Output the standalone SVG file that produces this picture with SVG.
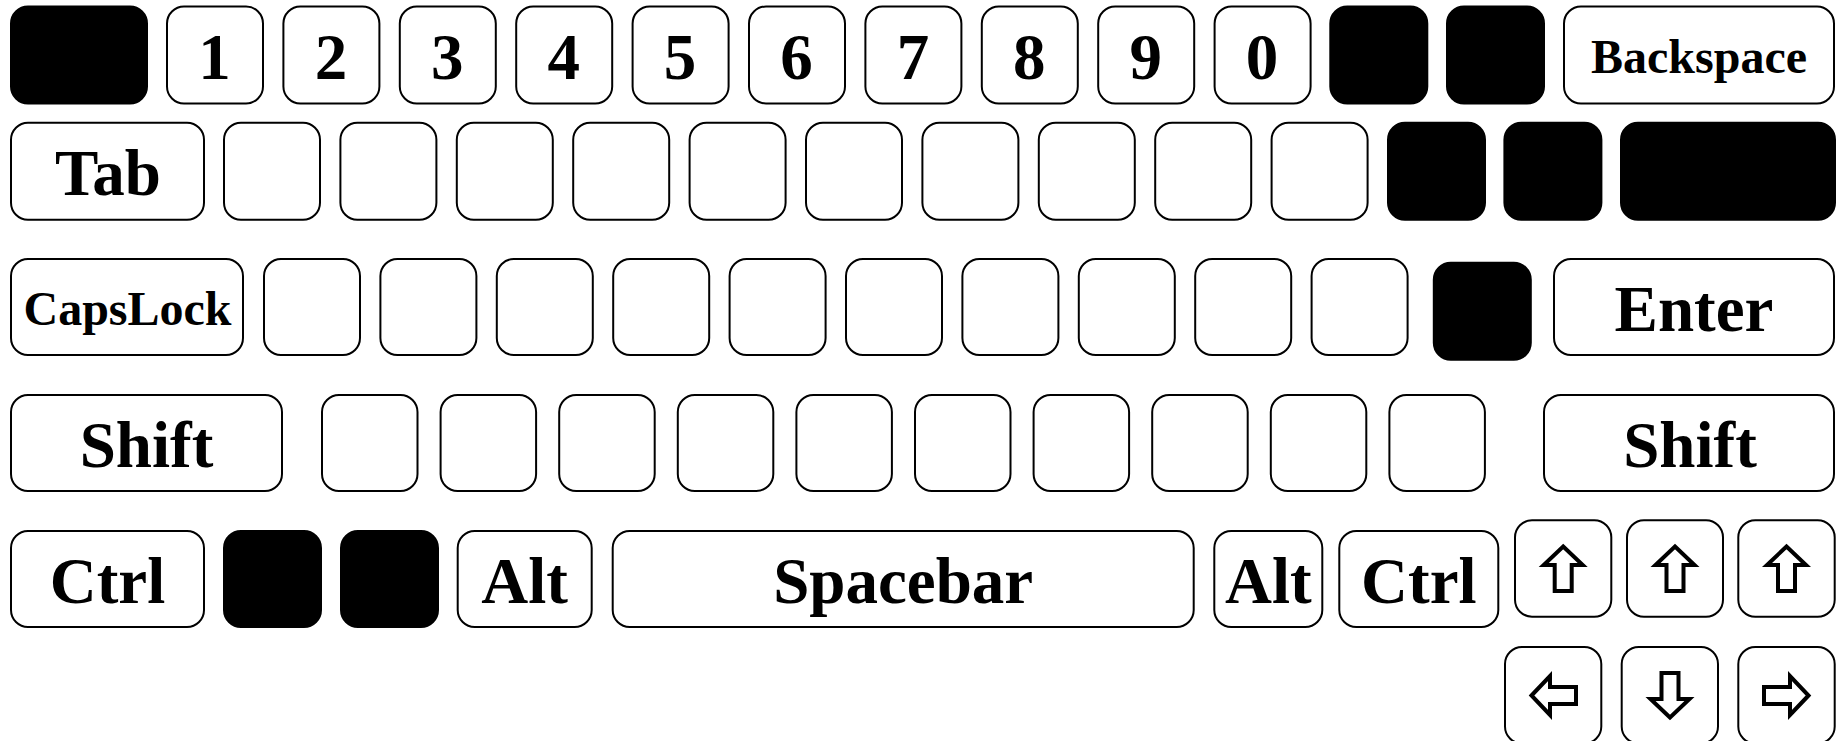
<svg xmlns="http://www.w3.org/2000/svg" width="1841" height="741" viewBox="0 0 1841 741">
<style>
.k{fill:#fff;stroke:#000;stroke-width:2}
.b{fill:#000;stroke:#000;stroke-width:2}
.t{font-family:"Liberation Serif","Times New Roman",serif;font-weight:bold;font-size:65px;text-anchor:middle;fill:#000}
.s{font-size:48px}
.ar{fill:#fff;stroke:#000;stroke-width:4;stroke-linejoin:miter}
</style>
<defs>
<path id="arr" class="ar" d="M0,-22 L19.5,-3.5 L8.5,-3.5 L8.5,22.5 L-8.5,22.5 L-8.5,-3.5 L-19.5,-3.5 Z"/>
</defs>
<rect width="1841" height="741" fill="#fff"/>
<g id="row1">
<g id="k-esc"><rect class="b" x="11" y="6.5" width="136" height="97" rx="17"/></g>
<g id="k-1"><rect class="k" x="167" y="6.5" width="96" height="97" rx="17"/><text class="t" x="214.5" y="79">1</text></g>
<g id="k-2"><rect class="k" x="283.4" y="6.5" width="96" height="97" rx="17"/><text class="t" x="330.9" y="79">2</text></g>
<g id="k-3"><rect class="k" x="399.8" y="6.5" width="96" height="97" rx="17"/><text class="t" x="447.3" y="79">3</text></g>
<g id="k-4"><rect class="k" x="516.2" y="6.5" width="96" height="97" rx="17"/><text class="t" x="563.7" y="79">4</text></g>
<g id="k-5"><rect class="k" x="632.6" y="6.5" width="96" height="97" rx="17"/><text class="t" x="680.1" y="79">5</text></g>
<g id="k-6"><rect class="k" x="749" y="6.5" width="96" height="97" rx="17"/><text class="t" x="796.5" y="79">6</text></g>
<g id="k-7"><rect class="k" x="865.4" y="6.5" width="96" height="97" rx="17"/><text class="t" x="912.9" y="79">7</text></g>
<g id="k-8"><rect class="k" x="981.8" y="6.5" width="96" height="97" rx="17"/><text class="t" x="1029.3" y="79">8</text></g>
<g id="k-9"><rect class="k" x="1098.2" y="6.5" width="96" height="97" rx="17"/><text class="t" x="1145.7" y="79">9</text></g>
<g id="k-0"><rect class="k" x="1214.6" y="6.5" width="96" height="97" rx="17"/><text class="t" x="1262.1" y="79">0</text></g>
<g id="k-r1b1"><rect class="b" x="1330.3" y="6.5" width="97" height="97" rx="17"/></g>
<g id="k-r1b2"><rect class="b" x="1447" y="6.5" width="97" height="97" rx="17"/></g>
<g id="k-backspace"><rect class="k" x="1564" y="6.5" width="270" height="97" rx="17"/><text class="t s" x="1699" y="73">Backspace</text></g>
</g>
<g id="row2">
<g id="k-tab"><rect class="k" x="11" y="122.7" width="193" height="97" rx="17"/><text class="t" x="108" y="195">Tab</text></g>
<g id="k-r2w0"><rect class="k" x="224" y="122.7" width="96" height="97" rx="17"/></g>
<g id="k-r2w1"><rect class="k" x="340.4" y="122.7" width="96" height="97" rx="17"/></g>
<g id="k-r2w2"><rect class="k" x="456.8" y="122.7" width="96" height="97" rx="17"/></g>
<g id="k-r2w3"><rect class="k" x="573.2" y="122.7" width="96" height="97" rx="17"/></g>
<g id="k-r2w4"><rect class="k" x="689.6" y="122.7" width="96" height="97" rx="17"/></g>
<g id="k-r2w5"><rect class="k" x="806" y="122.7" width="96" height="97" rx="17"/></g>
<g id="k-r2w6"><rect class="k" x="922.4" y="122.7" width="96" height="97" rx="17"/></g>
<g id="k-r2w7"><rect class="k" x="1038.8" y="122.7" width="96" height="97" rx="17"/></g>
<g id="k-r2w8"><rect class="k" x="1155.2" y="122.7" width="96" height="97" rx="17"/></g>
<g id="k-r2w9"><rect class="k" x="1271.6" y="122.7" width="96" height="97" rx="17"/></g>
<g id="k-r2b1"><rect class="b" x="1388" y="122.7" width="97" height="97" rx="17"/></g>
<g id="k-r2b2"><rect class="b" x="1504.4" y="122.7" width="97" height="97" rx="17"/></g>
<g id="k-r2b3"><rect class="b" x="1621" y="122.7" width="214" height="97" rx="17"/></g>
</g>
<g id="row3">
<g id="k-capslock"><rect class="k" x="11" y="259" width="232" height="96" rx="17"/><text class="t s" x="127.5" y="324.5">CapsLock</text></g>
<g id="k-r3w0"><rect class="k" x="264" y="259" width="96" height="96" rx="17"/></g>
<g id="k-r3w1"><rect class="k" x="380.4" y="259" width="96" height="96" rx="17"/></g>
<g id="k-r3w2"><rect class="k" x="496.8" y="259" width="96" height="96" rx="17"/></g>
<g id="k-r3w3"><rect class="k" x="613.2" y="259" width="96" height="96" rx="17"/></g>
<g id="k-r3w4"><rect class="k" x="729.6" y="259" width="96" height="96" rx="17"/></g>
<g id="k-r3w5"><rect class="k" x="846" y="259" width="96" height="96" rx="17"/></g>
<g id="k-r3w6"><rect class="k" x="962.4" y="259" width="96" height="96" rx="17"/></g>
<g id="k-r3w7"><rect class="k" x="1078.8" y="259" width="96" height="96" rx="17"/></g>
<g id="k-r3w8"><rect class="k" x="1195.2" y="259" width="96" height="96" rx="17"/></g>
<g id="k-r3w9"><rect class="k" x="1311.6" y="259" width="96" height="96" rx="17"/></g>
<g id="k-r3b1"><rect class="b" x="1433.8" y="262.7" width="97" height="97" rx="17"/></g>
<g id="k-enter"><rect class="k" x="1554" y="259" width="280" height="96" rx="17"/><text class="t" x="1694" y="331">Enter</text></g>
</g>
<g id="row4">
<g id="k-lshift"><rect class="k" x="11" y="395" width="271" height="96" rx="17"/><text class="t" x="146.5" y="467">Shift</text></g>
<g id="k-r4w0"><rect class="k" x="322" y="395" width="95.5" height="96" rx="17"/></g>
<g id="k-r4w1"><rect class="k" x="440.6" y="395" width="95.5" height="96" rx="17"/></g>
<g id="k-r4w2"><rect class="k" x="559.2" y="395" width="95.5" height="96" rx="17"/></g>
<g id="k-r4w3"><rect class="k" x="677.8" y="395" width="95.5" height="96" rx="17"/></g>
<g id="k-r4w4"><rect class="k" x="796.4" y="395" width="95.5" height="96" rx="17"/></g>
<g id="k-r4w5"><rect class="k" x="915" y="395" width="95.5" height="96" rx="17"/></g>
<g id="k-r4w6"><rect class="k" x="1033.6" y="395" width="95.5" height="96" rx="17"/></g>
<g id="k-r4w7"><rect class="k" x="1152.2" y="395" width="95.5" height="96" rx="17"/></g>
<g id="k-r4w8"><rect class="k" x="1270.8" y="395" width="95.5" height="96" rx="17"/></g>
<g id="k-r4w9"><rect class="k" x="1389.4" y="395" width="95.5" height="96" rx="17"/></g>
<g id="k-rshift"><rect class="k" x="1544" y="395" width="290" height="96" rx="17"/><text class="t" x="1690" y="467">Shift</text></g>
</g>
<g id="row5">
<g id="k-lctrl"><rect class="k" x="11" y="531" width="193" height="96" rx="17"/><text class="t" x="107.5" y="603">Ctrl</text></g>
<g id="k-r5b1"><rect class="b" x="224" y="531" width="97" height="96" rx="17"/></g>
<g id="k-r5b2"><rect class="b" x="341" y="531" width="97" height="96" rx="17"/></g>
<g id="k-lalt"><rect class="k" x="457.7" y="531" width="134" height="96" rx="17"/><text class="t" x="524.7" y="603">Alt</text></g>
<g id="k-space"><rect class="k" x="612.7" y="531" width="581" height="96" rx="17"/><text class="t" x="903.2" y="603">Spacebar</text></g>
<g id="k-ralt"><rect class="k" x="1214.3" y="531" width="108" height="96" rx="17"/><text class="t" x="1268.3" y="603">Alt</text></g>
<g id="k-rctrl"><rect class="k" x="1339.3" y="531" width="159" height="96" rx="17"/><text class="t" x="1418.8" y="603">Ctrl</text></g>
</g>
<g id="arrows">
<g id="k-up1"><rect class="k" x="1515" y="520.3" width="96.3" height="96.4" rx="17"/><use href="#arr" transform="translate(1563.2,568.5)"/></g>
<g id="k-up2"><rect class="k" x="1627" y="520.3" width="96" height="96.4" rx="17"/><use href="#arr" transform="translate(1675,568.5)"/></g>
<g id="k-up3"><rect class="k" x="1738.3" y="520.3" width="96.4" height="96.4" rx="17"/><use href="#arr" transform="translate(1786.5,568.5)"/></g>
<g id="k-left"><rect class="k" x="1505" y="647" width="96.3" height="96.4" rx="17"/><use href="#arr" transform="translate(1553.5,695.5) rotate(-90)"/></g>
<g id="k-down"><rect class="k" x="1621.7" y="647" width="96.3" height="96.4" rx="17"/><use href="#arr" transform="translate(1670,695.5) rotate(180)"/></g>
<g id="k-right"><rect class="k" x="1738.3" y="647" width="96.4" height="96.4" rx="17"/><use href="#arr" transform="translate(1786.5,695.5) rotate(90)"/></g>
</g>
</svg>
